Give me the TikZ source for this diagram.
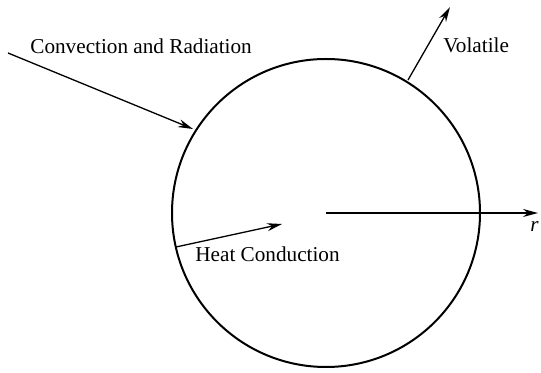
\documentclass[tikz,border=0pt]{standalone}
\usepackage{fontspec}
\setmainfont{Liberation Serif}
\usetikzlibrary{arrows.meta}
\begin{document}
\begin{tikzpicture}[x=0.5pt,y=-0.5pt,
  lbl/.style={anchor=base west,inner sep=0pt,font=\fontsize{10.6pt}{12.5pt}\selectfont},
  arr/.style={line width=0.65pt,-{Stealth[length=7.5pt,width=4pt]}},
  ball/.style={circle,draw,line width=1pt,minimum size=154pt,inner sep=0pt}]
\useasboundingbox (0,0) rectangle (541,373);
\node[ball] (c) at (326,213) {};
\node[lbl] (conv) at (30,54) {Convection and Radiation};
\node[lbl] (vol) at (443,53) {Volatile};
\node[lbl] (heat) at (195,262) {Heat Conduction};
\node[lbl] (r) at (530,232) {\itshape r};
\coordinate (c1) at (8,53);
\coordinate (c2) at (193,129);
\coordinate (v1) at (408,80);
\coordinate (v2) at (450,7);
\coordinate (h1) at (176,247);
\coordinate (h2) at (282,224);
\coordinate (r2) at (538,213);
\draw[arr] (c1) -- (c2);
\draw[arr] (v1) -- (v2);
\draw[arr] (h1) -- (h2);
\draw[arr] (c.center) -- (r2);
\end{tikzpicture}
\end{document}
